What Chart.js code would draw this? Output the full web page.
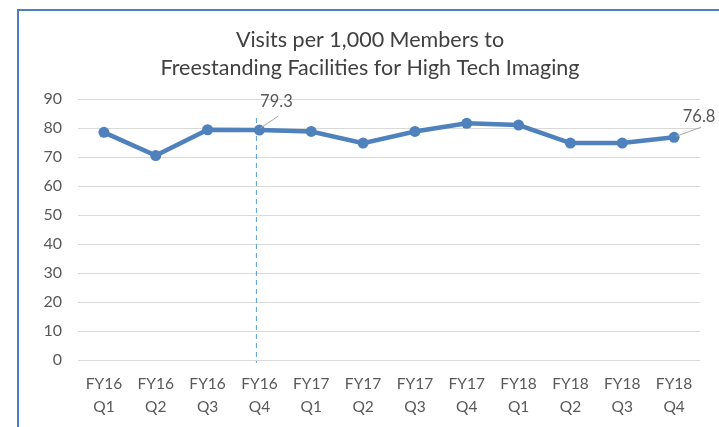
<!DOCTYPE html>
<html>
<head>
<meta charset="utf-8">
<script src="https://cdn.jsdelivr.net/npm/chart.js@4/dist/chart.umd.min.js"></script>
<style>
  html, body { margin: 0; padding: 0; background: #fff; }
  #wrap { position: relative; width: 719px; height: 427px; overflow: hidden; }
  #frame {
    position: absolute; left: 17px; top: 9px; width: 760px; height: 480px;
    border-left: 2px solid #4f7fc2; border-top: 2px solid #4f7fc2;
  }
  canvas { position: absolute; left: 0; top: 0; }
</style>
</head>
<body>
<div id="wrap">
  <div id="frame"></div>
  <canvas id="chart" width="719" height="427"></canvas>
</div>
<script>
const titleLines = ["Visits per 1,000 Members to", "Freestanding Facilities for High Tech Imaging"];
const quarters = [
  ["FY16", "Q1"], ["FY16", "Q2"], ["FY16", "Q3"], ["FY16", "Q4"],
  ["FY17", "Q1"], ["FY17", "Q2"], ["FY17", "Q3"], ["FY17", "Q4"],
  ["FY18", "Q1"], ["FY18", "Q2"], ["FY18", "Q3"], ["FY18", "Q4"]
];
const visits = [78.5, 70.5, 79.4, 79.3, 78.8, 74.8, 78.8, 81.6, 81.0, 74.8, 74.8, 76.8];
const labelledPoints = [3, 11]; // points that carry a value label
const markerIndex = 3; // dashed vertical marker
const yTicks = { min: 0, max: 90, step: 10 };

const fontFamily = "Lato, 'Open Sans', sans-serif";
const blue = "#4f81bd";

// title, drawn by hand so it can sit left of the canvas centre like the original
const titlePlugin = {
  id: "twoLineTitle",
  afterDraw(chart) {
    const ctx = chart.ctx;
    ctx.save();
    ctx.font = "21.5px " + fontFamily;
    ctx.fillStyle = "#404040";
    ctx.textAlign = "center";
    ctx.textBaseline = "middle";
    titleLines.forEach((t, i) => ctx.fillText(t, 370, 40 + i * 28));
    ctx.restore();
  }
};

const markerPlugin = {
  id: "dashedMarker",
  beforeDatasetsDraw(chart) {
    const ctx = chart.ctx;
    const x = chart.scales.x.getPixelForValue(markerIndex) - 3;
    ctx.save();
    ctx.strokeStyle = "#5b9bd5";
    ctx.lineWidth = 1;
    ctx.setLineDash([5, 4]);
    ctx.beginPath();
    ctx.moveTo(x, chart.chartArea.top + 19);
    ctx.lineTo(x, chart.chartArea.bottom + 3);
    ctx.stroke();
    ctx.restore();
  }
};

const valueLabelPlugin = {
  id: "valueLabels",
  afterDatasetsDraw(chart) {
    const ctx = chart.ctx;
    const meta = chart.getDatasetMeta(0);
    const offsets = {
      3: { lead: [1, -2, 19, -14], text: [17, -28] },
      11: { lead: [2, -1, 27, -10], text: [25, -21] }
    };
    ctx.save();
    labelledPoints.forEach((i) => {
      const p = meta.data[i];
      const o = offsets[i];
      ctx.strokeStyle = "#a6a6a6";
      ctx.lineWidth = 1;
      ctx.beginPath();
      ctx.moveTo(p.x + o.lead[0], p.y + o.lead[1]);
      ctx.lineTo(p.x + o.lead[2], p.y + o.lead[3]);
      ctx.stroke();
      ctx.font = "16.5px " + fontFamily;
      ctx.fillStyle = "#595959";
      ctx.textAlign = "center";
      ctx.textBaseline = "middle";
      ctx.fillText(visits[i].toFixed(1), p.x + o.text[0], p.y + o.text[1]);
    });
    ctx.restore();
  }
};

new Chart(document.getElementById("chart").getContext("2d"), {
  type: "line",
  data: {
    labels: quarters,
    datasets: [
      {
        label: "Visits per 1,000 Members",
        data: visits,
        borderColor: blue,
        backgroundColor: blue,
        borderWidth: 4.5,
        pointRadius: 5.5,
        pointBackgroundColor: blue,
        pointBorderWidth: 0,
        tension: 0
      }
    ]
  },
  options: {
    responsive: false,
    animation: false,
    layout: { padding: { left: 0, right: 19, top: 99, bottom: 0 } },
    scales: {
      x: {
        offset: true,
        grid: { display: false, drawTicks: false },
        border: { display: false },
        ticks: {
          color: "#595959",
          font: { family: fontFamily, size: 15.5, lineHeight: 1.5 },
          padding: 12,
          maxRotation: 0,
          autoSkip: false
        },
        afterFit(scale) { scale.height = 67; }
      },
      y: {
        min: yTicks.min,
        max: yTicks.max,
        grid: { color: "#d9d9d9", lineWidth: 1, drawTicks: false },
        border: { display: false },
        ticks: {
          stepSize: yTicks.step,
          color: "#595959",
          font: { family: fontFamily, size: 16 },
          padding: 16
        },
        afterFit(scale) { scale.width = 78; }
      }
    },
    plugins: {
      legend: { display: false },
      title: { display: false },
      tooltip: { enabled: false }
    }
  },
  plugins: [titlePlugin, markerPlugin, valueLabelPlugin]
});
</script>
</body>
</html>
